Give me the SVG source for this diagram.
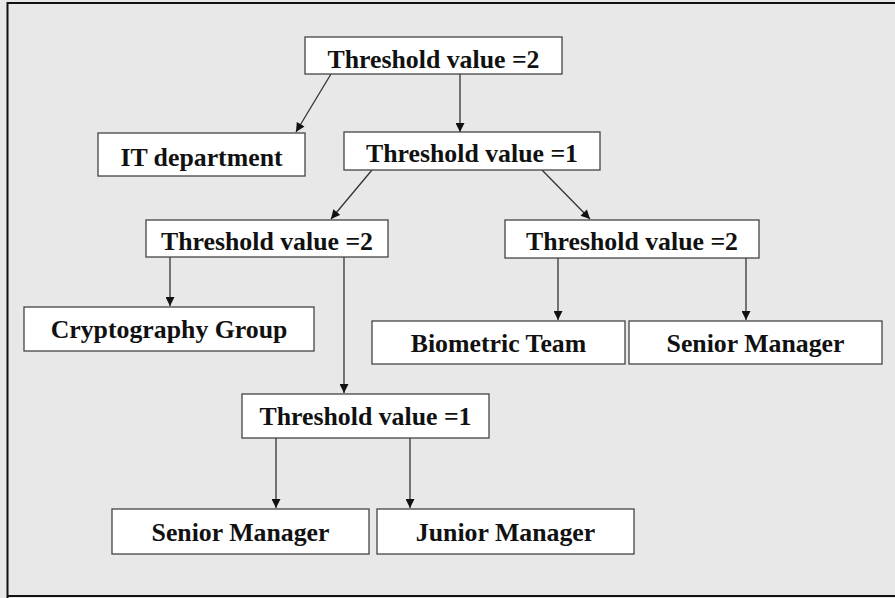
<svg xmlns="http://www.w3.org/2000/svg" width="895" height="598" viewBox="0 0 895 598">
<style>
.node rect{fill:#fff;stroke:#444;stroke-width:1.3}
.node text{font-family:"Liberation Serif","Times New Roman",serif;font-weight:bold;font-size:25.8px;fill:#111;text-anchor:middle}
#edges line{stroke:#333;stroke-width:1.3;marker-end:url(#ah)}
</style>
<defs>
<marker id="ah" viewBox="0 0 10 10" refX="10" refY="5" markerWidth="10" markerHeight="9" markerUnits="userSpaceOnUse" orient="auto">
<path d="M0,0 L10,5 L0,10 z" fill="#111"/>
</marker>
</defs>
<rect x="0" y="0" width="895" height="598" fill="#e8e8e8"/>
<path d="M7.5,598 V3 H895 M7.5,596 H895" fill="none" stroke="#111" stroke-width="2"/>
<g id="edges">
<line x1="331" y1="74" x2="296" y2="132"/>
<line x1="460" y1="74" x2="460" y2="132"/>
<line x1="372" y1="170" x2="331" y2="219"/>
<line x1="542" y1="170" x2="590" y2="219"/>
<line x1="170" y1="257" x2="170" y2="306"/>
<line x1="344" y1="257" x2="344" y2="393"/>
<line x1="558" y1="258" x2="558" y2="320"/>
<line x1="746" y1="258" x2="746" y2="320"/>
<line x1="276" y1="438" x2="276" y2="508"/>
<line x1="410" y1="438" x2="410" y2="508"/>
</g>
<g id="n-top" class="node"><rect x="305" y="37" width="257" height="37"/><text x="433.5" y="68">Threshold value =2</text></g>
<g id="n-it" class="node"><rect x="98" y="133" width="207" height="43"/><text x="201.5" y="166">IT department</text></g>
<g id="n-th1" class="node"><rect x="344" y="132" width="256" height="38"/><text x="472" y="162">Threshold value =1</text></g>
<g id="n-th2l" class="node"><rect x="146" y="220" width="242" height="37"/><text x="267" y="250">Threshold value =2</text></g>
<g id="n-th2r" class="node"><rect x="505" y="220" width="254" height="38"/><text x="632" y="250">Threshold value =2</text></g>
<g id="n-crypto" class="node"><rect x="24" y="307" width="290" height="44"/><text x="169" y="338">Cryptography Group</text></g>
<g id="n-bio" class="node"><rect x="372" y="321" width="253" height="43"/><text x="498.5" y="352">Biometric Team</text></g>
<g id="n-sm1" class="node"><rect x="629" y="321" width="253" height="43"/><text x="755.5" y="352">Senior Manager</text></g>
<g id="n-th1b" class="node"><rect x="242" y="394" width="247" height="44"/><text x="365.5" y="425">Threshold value =1</text></g>
<g id="n-sm2" class="node"><rect x="112" y="509" width="257" height="45"/><text x="240.5" y="541">Senior Manager</text></g>
<g id="n-jm" class="node"><rect x="377" y="509" width="257" height="45"/><text x="505.5" y="541">Junior Manager</text></g>
</svg>
